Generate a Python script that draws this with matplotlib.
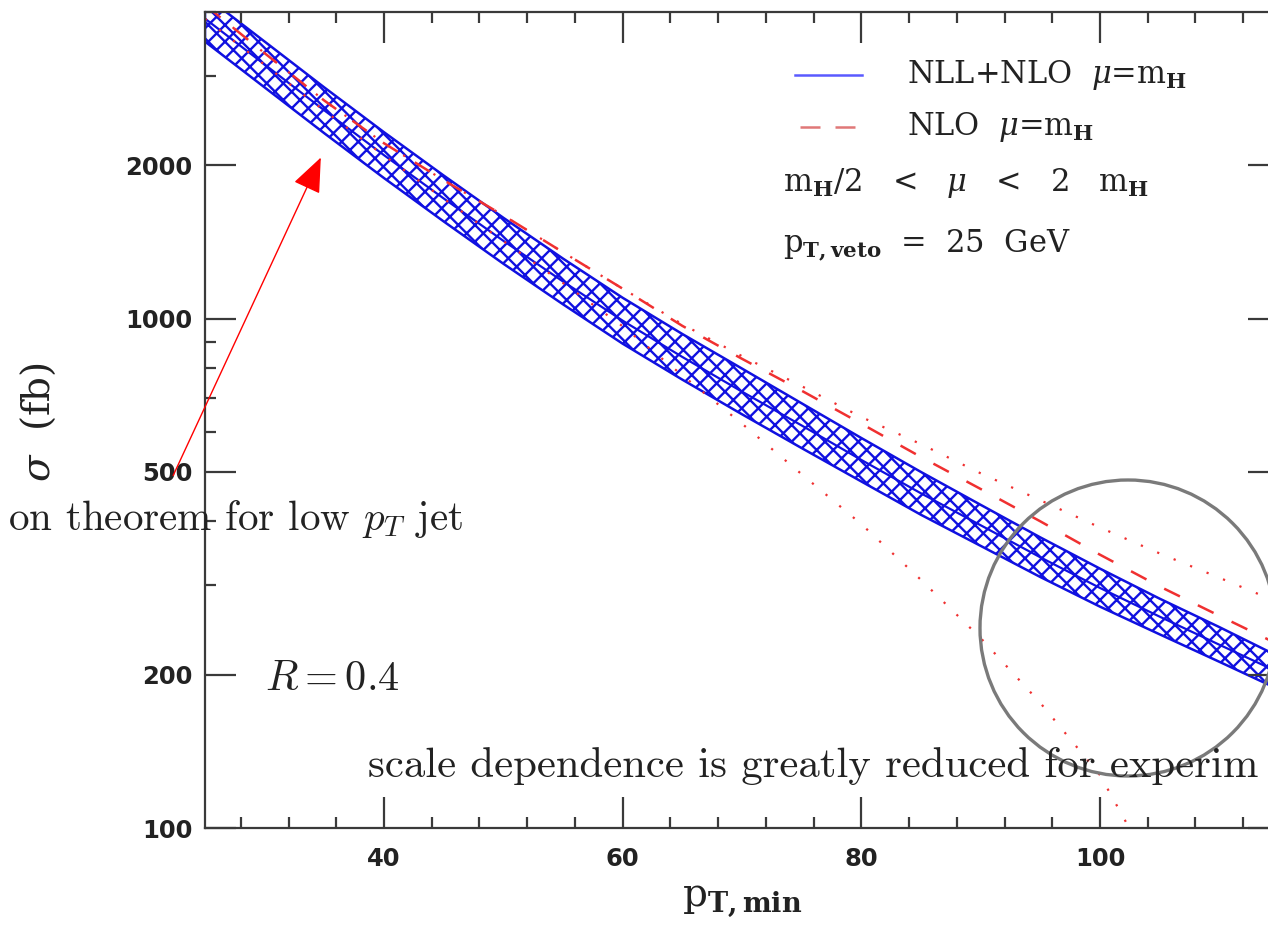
import matplotlib
matplotlib.use("Agg")
import matplotlib.pyplot as plt
from matplotlib.ticker import FixedLocator, NullFormatter, FixedFormatter
from matplotlib.lines import Line2D
from matplotlib.patches import Circle, FancyArrowPatch

# ---- data ----
pt_min = [25, 30, 35, 40, 45, 50, 55, 60, 65, 70, 75, 80, 85, 90, 95, 100, 105, 110, 115]

# NLL+NLO band (scale variation) and central value
nll_upper = [4305, 3499, 2844, 2323, 1910, 1578, 1312, 1099, 933, 798, 682, 583, 500, 431, 372, 323, 282, 248, 217]
nll_lower = [3499, 2844, 2312, 1888, 1552, 1282, 1067, 893, 759, 649, 557, 479, 412, 358, 311, 272, 240, 212, 187]
nll_central = [3882, 3155, 2564, 2094, 1722, 1422, 1183, 991, 841, 719, 617, 528, 454, 393, 340, 296, 260, 229, 202]

# NLO central (dashed) and scale variation (dotted)
nlo_central = [4130, 3320, 2680, 2210, 1870, 1595, 1350, 1145, 968, 834, 722, 622, 535, 463, 400, 344, 298, 261, 229]
nlo_upper = [4130, 3320, 2680, 2210, 1870, 1595, 1350, 1145, 975, 844, 737, 641, 567, 497, 440, 389, 346, 310, 277]
pt_low = [25, 30, 35, 40, 45, 50, 55, 60, 65, 70, 75, 80, 85, 90, 95, 100, 105]
nlo_lower = [3880, 3150, 2560, 2090, 1720, 1420, 1175, 966, 774, 622, 495, 395, 307, 236, 176, 127, 78]

y_major = [100, 200, 500, 1000, 2000]
y_minor = [300, 400, 600, 700, 800, 900, 3000, 4000]
x_major = [40, 60, 80, 100]
x_minor = [28, 32, 36, 44, 48, 52, 56, 64, 68, 72, 76, 84, 88, 92, 96, 104, 108, 112]

plt.rcParams['mathtext.fontset'] = 'dejavuserif'
plt.rcParams['hatch.linewidth'] = 1.7

fig = plt.figure(figsize=(12.68, 9.36), dpi=100)
ax = fig.add_axes([205 / 1268, 108 / 936, 1074 / 1268, 816 / 936])

blue = '#1010e0'
red = '#f03030'

ax.fill_between(pt_min, nll_lower, nll_upper, facecolor='none', edgecolor=blue,
                hatch='xx', linewidth=1.8)
ax.plot(pt_min, nll_central, color=blue, lw=1.6)
ax.plot(pt_min, nlo_central, color=red, lw=1.8, dashes=(7, 8))
ax.plot(pt_min, nlo_upper, color=red, lw=1.6, ls=(0, (1, 7)))
ax.plot(pt_low, nlo_lower, color=red, lw=1.6, ls=(0, (1, 7)))

ax.set_yscale('log')
ax.set_xlim(25, 115)
ax.set_ylim(100, 4000)

ax.yaxis.set_major_locator(FixedLocator(y_major))
ax.yaxis.set_major_formatter(FixedFormatter([str(v) for v in y_major]))
ax.yaxis.set_minor_locator(FixedLocator(y_minor))
ax.yaxis.set_minor_formatter(NullFormatter())
ax.xaxis.set_major_locator(FixedLocator(x_major))
ax.xaxis.set_minor_locator(FixedLocator(x_minor))

axis_col = '#3a3a3a'
for s in ax.spines.values():
    s.set_color(axis_col)
    s.set_linewidth(1.6)
ax.tick_params(which='both', direction='in', top=True, right=True, color=axis_col, width=1.6)
ax.tick_params(which='major', length=22)
ax.tick_params(which='minor', length=8)
ax.tick_params(axis='y', which='major', pad=9)
ax.tick_params(axis='x', which='major', pad=14)
for lab in ax.get_xticklabels() + ax.get_yticklabels():
    lab.set_fontsize(17.5)
    lab.set_fontweight('bold')
    lab.set_color('#222222')

# axis titles
ax.set_xlabel(r'p$_{\mathbf{T,min}}$', fontsize=28, family='DejaVu Serif', color='#222222', labelpad=8)
fig.text(38 / 1268, 1 - 422 / 936, r'$\sigma$  (fb)', rotation=90, fontsize=28,
         family='DejaVu Serif', color='#222222', ha='center', va='center')

# legend, drawn by hand like the original
ax.add_line(Line2D([0.549, 0.612], [0.9228, 0.9228], transform=ax.transAxes, color='#5a5aff', lw=1.8))
ax.add_line(Line2D([0.554, 0.610], [0.859, 0.859], transform=ax.transAxes, color='#e07878', lw=1.8, dashes=(8, 6)))
leg_kw = dict(transform=ax.transAxes, fontsize=22, family='DejaVu Serif', color='#222222', va='center')
ax.text(0.6536, 0.9228, r'NLL+NLO  $\mu$=m$_\mathbf{H}$', **leg_kw)
ax.text(0.6536, 0.859, r'NLO  $\mu$=m$_\mathbf{H}$', **leg_kw)
ax.text(0.538, 0.790, r'm$_\mathbf{H}$/2   <   $\mu$   <   2   m$_\mathbf{H}$', **leg_kw)
ax.text(0.538, 0.714, r'p$_\mathbf{T,veto}$  =  25  GeV', **leg_kw)

# overlaid annotations (the visible parts of the captions)
note_kw = dict(family='cmr10', math_fontfamily='cm', color='#222222', va='baseline')
fig.text(463 / 1268, 1 - 530 / 936, r'on theorem for low $p_T$ jet', ha='right', fontsize=29.6, **note_kw)
fig.text(265 / 1268, 1 - 690 / 936, r'$R = 0.4$', ha='left', fontsize=30.5, **note_kw)
fig.text(368 / 1268, 1 - 777 / 936, 'scale dependence is greatly reduced for experim', ha='left',
         fontsize=30.8, **note_kw)

arrow = FancyArrowPatch((172 / 1268, 1 - 478 / 936), (322 / 1268, 1 - 155 / 936),
                        transform=fig.transFigure, arrowstyle='-|>,head_length=1.1,head_width=0.45',
                        mutation_scale=20, color='#ff0000', lw=1.0)
fig.patches.append(arrow)

circ = Circle((11.28, 3.08), 1.48, transform=fig.dpi_scale_trans, fill=False, ec='#7a7a7a', lw=2.4)
fig.patches.append(circ)

fig.savefig('out.png', dpi=100)
